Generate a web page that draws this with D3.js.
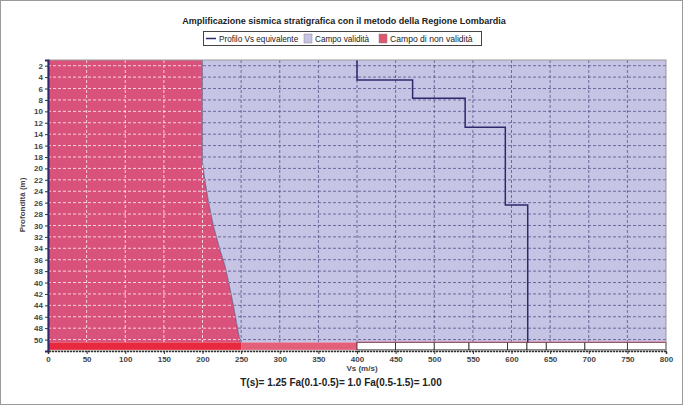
<!DOCTYPE html>
<html><head><meta charset="utf-8">
<script src="https://cdn.jsdelivr.net/npm/d3@7"></script>
<style>
body{margin:0;background:#fff}
svg{display:block;font-family:"Liberation Sans",Arial,sans-serif}
</style>
</head><body><svg id="c" width="683" height="405"></svg>
<script>
// ---------- data ----------
const titleText = "Amplificazione sismica stratigrafica con il metodo della Regione Lombardia";
const legendLabels = ["Profilo Vs equivalente", "Campo validità", "Campo di non validità"];
const xTickValues = [0, 50, 100, 150, 200, 250, 300, 350, 400, 450, 500, 550, 600, 650, 700, 750, 800];
const depthTicks = [2, 4, 6, 8, 10, 12, 14, 16, 18, 20, 22, 24, 26, 28, 30, 32, 34, 36, 38, 40, 42, 44, 46, 48, 50];
// limit between "non validità" (left) and "validità" (right)
const boundaryDepth = [1, 19, 22, 26, 30, 34, 37, 40, 44, 47, 50.5];
const boundaryVs   = [200, 200, 203, 208, 214, 222, 229, 234, 240, 244, 249];
// Vs profile (step line)
const profileDepthTop = [1, 4.5, 7.7, 12.8, 26.4];
const profileDepthEnd = 50.5;
const profileVs = [400, 472, 540, 592, 621];
// bottom strip (bedrock row)
const stripEdges = [0, 250, 400, 450, 500, 545, 595, 620, 645, 695, 750, 800];
const stripKind  = ["red", "pink", "box", "box", "box", "box", "box", "box", "box", "box", "box"];
const footerText = "T(s)= 1.25 Fa(0.1-0.5)= 1.0 Fa(0.5-1.5)= 1.00";

// ---------- layout ----------
const svg = d3.select("#c");
const L = 48, R = 666, T = 60, B = 351;
const x = d3.scaleLinear().domain([0, 800]).range([L, R]);
const y = d3.scaleLinear().domain([1, 52]).range([T, B]);
const redCol = "#d9527b", lavCol = "#c6c4e4", darkCol = "#2c2a6c";

svg.append("rect").attr("x", 0.5).attr("y", 0.5).attr("width", 682).attr("height", 404)
  .attr("fill", "#fff").attr("stroke", "#9a9a9a");

// title
svg.append("text").attr("x", 344).attr("y", 24).attr("text-anchor", "middle")
  .attr("font-size", 9).attr("font-weight", "bold").attr("fill", "#222").text(titleText);

// legend
const lg = svg.append("g");
lg.append("rect").attr("x", 203.5).attr("y", 31.5).attr("width", 278).attr("height", 14)
  .attr("fill", "#fff").attr("stroke", "#444");
lg.append("line").attr("x1", 206).attr("x2", 216).attr("y1", 38.5).attr("y2", 38.5)
  .attr("stroke", darkCol).attr("stroke-width", 1.5);
lg.append("text").attr("x", 219).attr("y", 41.5).attr("font-size", 8.2).attr("fill", "#222").text(legendLabels[0]);
lg.append("rect").attr("x", 304).attr("y", 34).attr("width", 8).attr("height", 9)
  .attr("fill", lavCol).attr("stroke", "#888").attr("stroke-width", 0.5);
lg.append("text").attr("x", 315).attr("y", 41.5).attr("font-size", 8.2).attr("fill", "#222").text(legendLabels[1]);
lg.append("rect").attr("x", 379).attr("y", 34).attr("width", 8).attr("height", 9)
  .attr("fill", "#e05670").attr("stroke", "#888").attr("stroke-width", 0.5);
lg.append("text").attr("x", 390).attr("y", 41.5).attr("font-size", 8.6).attr("fill", "#222").text(legendLabels[2]);

// areas
const bnd = boundaryDepth.map((d, i) => ({depth: d, vs: boundaryVs[i]}));
const redArea = d3.area().y(d => y(d.depth)).x0(x(0)).x1(d => x(d.vs));
const lavArea = d3.area().y(d => y(d.depth)).x0(d => x(d.vs)).x1(x(800));
const defs = svg.append("defs");
defs.append("clipPath").attr("id", "cr").append("path").attr("d", redArea(bnd));
defs.append("clipPath").attr("id", "cl").append("path").attr("d", lavArea(bnd));

svg.append("path").attr("d", redArea(bnd)).attr("fill", redCol);
svg.append("path").attr("d", lavArea(bnd)).attr("fill", lavCol);
svg.append("path").attr("d", d3.line().y(d => y(d.depth)).x(d => x(d.vs))(bnd))
  .attr("fill", "none").attr("stroke", "#3b3570").attr("stroke-width", 0.8).attr("opacity", 0.7);

// grids
function grid(g, col, w, op) {
  g.selectAll(".h").data(depthTicks).join("line")
    .attr("x1", L).attr("x2", R).attr("y1", d => y(d)).attr("y2", d => y(d))
    .attr("stroke", col).attr("stroke-width", w).attr("stroke-dasharray", "3,2").attr("opacity", op);
  g.selectAll(".v").data(xTickValues.slice(1, -1)).join("line")
    .attr("y1", T).attr("y2", B).attr("x1", d => x(d)).attr("x2", d => x(d))
    .attr("stroke", col).attr("stroke-width", w).attr("stroke-dasharray", "3,2").attr("opacity", op);
}
grid(svg.append("g").attr("clip-path", "url(#cr)"), "#ffffff", 1, 0.75);
grid(svg.append("g").attr("clip-path", "url(#cl)"), "#4a447e", 1, 0.7);

// bottom strip
const sy0 = y(50.5), sy1 = y(51.8);
stripKind.forEach((k, i) => {
  const r = svg.append("rect").attr("x", x(stripEdges[i])).attr("y", sy0)
    .attr("width", x(stripEdges[i + 1]) - x(stripEdges[i])).attr("height", sy1 - sy0);
  if (k === "red") r.attr("fill", "#e8283c");
  else if (k === "pink") r.attr("fill", "#e2607a");
  else r.attr("fill", "#fff").attr("stroke", "#222").attr("stroke-width", 0.8);
});
svg.append("line").attr("x1", x(400)).attr("x2", R).attr("y1", sy0 - 0.5).attr("y2", sy0 - 0.5)
  .attr("stroke", "#e07a90").attr("stroke-width", 1);

// Vs profile step line
const pts = [];
profileVs.forEach((v, i) => {
  const top = profileDepthTop[i];
  const bot = i < profileVs.length - 1 ? profileDepthTop[i + 1] : profileDepthEnd;
  pts.push([v, top], [v, bot]);
});
svg.append("path").attr("d", d3.line().x(d => x(d[0])).y(d => y(d[1]))(pts))
  .attr("fill", "none").attr("stroke", darkCol).attr("stroke-width", 1.5);

// frame
svg.append("rect").attr("x", L).attr("y", T).attr("width", R - L).attr("height", B - T)
  .attr("fill", "none").attr("stroke", "#999").attr("stroke-width", 1);

// axes
const ya = svg.append("g").attr("transform", `translate(${L},0)`)
  .call(d3.axisLeft(y).tickValues(depthTicks).tickSize(3).tickPadding(2));
ya.select(".domain").attr("stroke", darkCol).attr("stroke-width", 2);
ya.selectAll("text").attr("font-size", 8).attr("font-weight", "bold").attr("fill", "#444").attr("font-family", "Liberation Sans, Arial, sans-serif");
ya.selectAll(".tick line").attr("stroke", "#333");

const xa = svg.append("g").attr("transform", `translate(0,${B})`)
  .call(d3.axisBottom(x).tickValues(xTickValues).tickSize(3).tickPadding(2));
xa.select(".domain").attr("stroke", "#333").attr("stroke-width", 1.5).attr("stroke-dasharray", "2,1");
xa.selectAll("text").attr("font-size", 8).attr("font-weight", "bold").attr("fill", "#444").attr("font-family", "Liberation Sans, Arial, sans-serif");
xa.selectAll(".tick line").attr("stroke", "#333");

// axis titles
svg.append("text").attr("transform", "translate(25,205) rotate(-90)").attr("text-anchor", "middle")
  .attr("font-size", 8).attr("font-weight", "bold").attr("fill", "#444").text("Profondità (m)");
svg.append("text").attr("x", 362).attr("y", 371).attr("text-anchor", "middle")
  .attr("font-size", 8).attr("font-weight", "bold").attr("fill", "#444").text("Vs (m/s)");
svg.append("text").attr("x", 341).attr("y", 386).attr("text-anchor", "middle")
  .attr("font-size", 10).attr("font-weight", "bold").attr("fill", "#222").text(footerText);
</script>
</body></html>
